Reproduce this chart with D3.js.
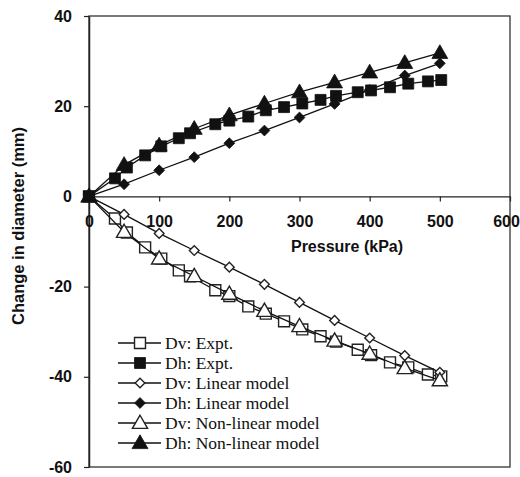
<!DOCTYPE html>
<html>
<head>
<meta charset="utf-8">
<script src="https://cdn.jsdelivr.net/npm/d3@7"></script>
<style>
  html, body { margin: 0; padding: 0; background: #fff; }
  svg { display: block; }
</style>
</head>
<body>
<svg id="chart" width="520" height="477"></svg>
<script>
// Pressure (kPa) for the measured series
const exptPressure = [0, 37, 54, 80, 103, 128, 144, 180, 200, 227, 252, 278, 304, 330, 352, 383, 402, 429, 455, 483, 502];
// Measured horizontal and vertical diameter change (mm)
const dhExpt = [0, 4.0, 6.4, 9.1, 11.1, 12.9, 14.0, 16.0, 16.8, 17.7, 19.1, 19.8, 20.6, 21.4, 22.3, 23.1, 23.5, 24.2, 25.0, 25.5, 25.8];
const dvExpt = [0, -4.9, -8.0, -11.3, -13.8, -16.4, -17.7, -20.8, -22.1, -24.4, -26.0, -27.7, -29.5, -31.0, -32.2, -34.0, -35.2, -36.8, -37.9, -39.5, -39.9];

// Pressure (kPa) for the model predictions
const modelPressure = [0, 50, 100, 150, 200, 250, 300, 350, 400, 450, 500];
const dvLinear = [0, -4.0, -8.2, -12.0, -15.7, -19.5, -23.5, -27.5, -31.4, -35.3, -39.0];
const dhLinear = [0, 2.7, 5.8, 8.7, 11.8, 14.6, 17.5, 20.5, 23.6, 26.8, 29.5];
const dvNonlinear = [0, -7.9, -13.8, -17.7, -21.6, -25.4, -28.8, -32.0, -34.9, -38.1, -40.8];
const dhNonlinear = [0, 7.0, 11.3, 15.0, 18.0, 20.6, 23.1, 25.3, 27.5, 29.6, 31.8];

const xTicks = [0, 100, 200, 300, 400, 500, 600];
const yTicks = [-60, -40, -20, 0, 20, 40];

const seriesNames = ["Dv: Expt.", "Dh: Expt.", "Dv: Linear model", "Dh: Linear model", "Dv: Non-linear model", "Dh: Non-linear model"];

const series = [
  { name: seriesNames[0], xs: exptPressure, ys: dvExpt, shape: "square", filled: false },
  { name: seriesNames[1], xs: exptPressure, ys: dhExpt, shape: "square", filled: true },
  { name: seriesNames[2], xs: modelPressure, ys: dvLinear, shape: "diamond", filled: false },
  { name: seriesNames[3], xs: modelPressure, ys: dhLinear, shape: "diamond", filled: true },
  { name: seriesNames[4], xs: modelPressure, ys: dvNonlinear, shape: "triangle", filled: false },
  { name: seriesNames[5], xs: modelPressure, ys: dhNonlinear, shape: "triangle", filled: true }
];

const svg = d3.select("#chart");
const plotLeft = 89, plotRight = 510, plotTop = 16, plotBottom = 467;

const x = d3.scaleLinear().domain([0, 600]).range([plotLeft, plotRight]);
const y = d3.scaleLinear().domain([-60, 40]).range([plotBottom, plotTop]);

const axisColor = "#222";
const plainNumber = d => String(d);

// Plot frame
svg.append("rect")
  .attr("x", plotLeft).attr("y", plotTop)
  .attr("width", plotRight - plotLeft).attr("height", plotBottom - plotTop)
  .attr("fill", "none").attr("stroke", "#333").attr("stroke-width", 1.3);

// Y axis
const yAxis = d3.axisLeft(y).tickValues(yTicks).tickFormat(plainNumber)
  .tickSize(5).tickSizeOuter(0).tickPadding(12);
const gy = svg.append("g").attr("transform", `translate(${plotLeft},0)`).call(yAxis);
gy.select(".domain").attr("stroke", axisColor).attr("stroke-width", 1.5);
gy.selectAll(".tick line").attr("stroke", axisColor).attr("stroke-width", 1.2);
gy.selectAll(".tick text")
  .attr("font-family", "Liberation Sans, Arial, sans-serif")
  .attr("font-weight", "bold").attr("font-size", 16).attr("fill", "#111");

// X axis crossing at zero
const xAxis = d3.axisBottom(x).tickValues(xTicks).tickFormat(plainNumber)
  .tickSize(5).tickSizeOuter(0).tickPadding(14);
const gx = svg.append("g").attr("transform", `translate(0,${y(0)})`).call(xAxis);
gx.select(".domain").attr("stroke", axisColor).attr("stroke-width", 1.3);
gx.selectAll(".tick line").attr("stroke", axisColor).attr("stroke-width", 1.2);
gx.selectAll(".tick text")
  .attr("font-family", "Liberation Sans, Arial, sans-serif")
  .attr("font-weight", "bold").attr("font-size", 16).attr("fill", "#111")
  .attr("dx", d => d === 600 ? -4 : 0);

// Axis titles
svg.append("text")
  .attr("x", 347).attr("y", 252)
  .attr("text-anchor", "middle")
  .attr("font-family", "Liberation Sans, Arial, sans-serif")
  .attr("font-weight", "bold").attr("font-size", 16).attr("fill", "#111")
  .text("Pressure (kPa)");

svg.append("text")
  .attr("transform", "translate(24,226) rotate(-90)")
  .attr("text-anchor", "middle")
  .attr("font-family", "Liberation Sans, Arial, sans-serif")
  .attr("font-weight", "bold").attr("font-size", 16.5).attr("fill", "#111")
  .text("Change in diameter (mm)");

// Marker shapes
const symbolFor = {
  square: d3.symbol().type(d3.symbolSquare),
  diamond: d3.symbol().type(d3.symbolDiamond2),
  triangle: d3.symbol().type(d3.symbolTriangle)
};
const sizeFor = { square: 120, diamond: 75, triangle: 110 };
const openSizeFor = { square: 120, diamond: 60, triangle: 100 };

function drawMarker(g, s, cx, cy) {
  const size = s.filled ? sizeFor[s.shape] : openSizeFor[s.shape];
  const dy = s.shape === "triangle" ? 1 : 0;
  g.append("path")
    .attr("d", symbolFor[s.shape].size(size)())
    .attr("transform", `translate(${cx},${cy + dy})`)
    .attr("fill", s.filled ? "#111" : "#fff")
    .attr("stroke", s.filled ? "#111" : "#222")
    .attr("stroke-width", s.filled ? 0.8 : 1.4);
}

const line = d3.line().x(d => x(d[0])).y(d => y(d[1]));

series.forEach(s => {
  const pts = s.xs.map((v, i) => [v, s.ys[i]]);
  const g = svg.append("g");
  g.append("path")
    .attr("d", line(pts))
    .attr("fill", "none").attr("stroke", "#111").attr("stroke-width", 1.3);
  pts.forEach(p => drawMarker(g, s, x(p[0]), y(p[1])));
});

// Legend
const legend = svg.append("g");
series.forEach((s, i) => {
  const ly = 343 + i * 20;
  legend.append("line")
    .attr("x1", 118).attr("x2", 161).attr("y1", ly).attr("y2", ly)
    .attr("stroke", "#111").attr("stroke-width", 1.3);
  drawMarker(legend, s, 140, ly);
  legend.append("text")
    .attr("x", 165).attr("y", ly + 5.5)
    .attr("font-family", "Liberation Serif, 'Times New Roman', serif")
    .attr("font-size", 17.5).attr("fill", "#111")
    .text(s.name);
});
</script>
</body>
</html>
